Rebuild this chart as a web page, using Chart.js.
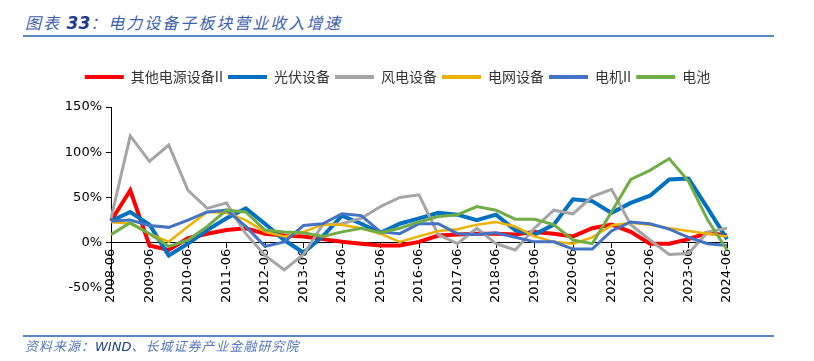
<!DOCTYPE html>
<html>
<head>
<meta charset="utf-8">
<script src="https://cdn.jsdelivr.net/npm/chart.js@4/dist/chart.umd.min.js"></script>
<style>
html,body{margin:0;padding:0;background:#fff;}
#wrap{position:relative;width:814px;height:361px;overflow:hidden;background:#fff;}
#c{position:absolute;left:0;top:0;}
.title{position:absolute;left:25px;top:11px;font-family:"Noto Sans CJK SC",sans-serif;font-style:italic;font-size:16px;letter-spacing:2px;color:#3E62AE;line-height:22px;white-space:nowrap;}
.title b{font-family:"DejaVu Sans",sans-serif;font-weight:bold;font-style:italic;font-size:17px;color:#1F3D8F;letter-spacing:0;}
.rule{position:absolute;left:23px;width:751px;height:2px;background:#5B86C6;}
.foot{position:absolute;left:25px;top:337px;font-family:"Noto Sans CJK SC",sans-serif;font-style:italic;font-size:13px;letter-spacing:1px;color:#5677BC;line-height:18px;white-space:nowrap;}
.foot span{font-family:"DejaVu Sans",sans-serif;color:#1F3D8F;letter-spacing:0;}
</style>
</head>
<body>
<div id="wrap">
  <div class="title">图表 <b>33</b>：电力设备子板块营业收入增速</div>
  <div class="rule" style="top:35px"></div>
  <canvas id="c" width="814" height="361"></canvas>
  <div class="rule" style="top:335px"></div>
  <div class="foot">资料来源：<span>WIND</span>、长城证券产业金融研究院</div>
</div>
<script>
const categories = [
  '2008-06','2008-12','2009-06','2009-12','2010-06','2010-12','2011-06','2011-12',
  '2012-06','2012-12','2013-06','2013-12','2014-06','2014-12','2015-06','2015-12',
  '2016-06','2016-12','2017-06','2017-12','2018-06','2018-12','2019-06','2019-12',
  '2020-06','2020-12','2021-06','2021-12','2022-06','2022-12','2023-06','2023-12','2024-06'
];
const seriesNames = ['其他电源设备II','光伏设备','风电设备','电网设备','电机II','电池'];
const otherPower = [24,58,-3,-8,5,10,14,16,10,8,7,4,1,-1,-3,-3,1,8,9,10,10,9,12,10,7,16,20,12,-1,-1,4,11,8];
const solar      = [24,34,20,-14,-1,14,27,38,21,3,-11,7,30,21,11,21,27,33,31,25,31,14,9,20,48,46,33,44,52,70,71,38,4];
const wind       = [27,118,90,108,58,38,44,10,-14,-30,-13,20,21,27,40,50,53,9,-1,16,-1,-8,16,36,32,51,59,20,3,-13,-12,12,16];
const grid       = [23,21,10,1,18,34,33,25,12,7,12,20,20,16,10,1,7,13,15,20,23,18,7,1,-1,6,19,22,20,16,13,10,7];
const motor      = [24,25,19,17,25,34,36,18,-4,1,19,21,32,30,12,10,21,21,10,9,11,6,1,1,-7,-7,13,23,21,15,6,-1,-3];
const battery    = [9,22,10,-4,3,18,36,34,14,12,11,7,12,16,11,16,23,29,31,40,36,26,26,20,3,-1,34,70,80,93,68,25,-8];
const yTicks = [-50,0,50,100,150];

const seriesValues = [otherPower, solar, wind, grid, motor, battery];
const seriesColors = ['#FF0000','#0070C0','#A5A5A5','#EDB100','#4472C4','#70AD47'];
const seriesWidths = [4,4,3,2.5,3,3];

const datasets = seriesNames.map((name,i)=>({
  label:name,
  data:seriesValues[i],
  borderColor:seriesColors[i],
  backgroundColor:seriesColors[i],
  borderWidth:seriesWidths[i],
  pointRadius:0,
  tension:0,
  fill:false,
  order:seriesNames.length-i
}));

const legendTweak = {
  id:'legendTweak',
  beforeLayout(chart){
    const lg = chart.legend;
    if (lg && !lg._patched){
      const f = lg.fit.bind(lg);
      lg.fit = function(){ f(); this.height += 13; };
      lg._patched = true;
    }
  },
  afterLayout(chart){
    const lg = chart.legend;
    if (lg){ lg.left += 34; lg.right += 34; }
  }
};

new Chart(document.getElementById('c'), {
  type:'line',
  data:{labels:categories, datasets},
  options:{
    responsive:false,
    animation:false,
    layout:{padding:{left:0,right:87,top:65,bottom:73}},
    plugins:{
      legend:{
        position:'top',
        labels:{
          boxWidth:39, boxHeight:4, padding:5, color:'#333',
          font:{family:'"Noto Sans CJK SC"', size:14},
          sort:(a,b)=>a.datasetIndex-b.datasetIndex,
          generateLabels:(chart)=>Chart.defaults.plugins.legend.labels.generateLabels(chart)
            .map(l=>Object.assign(l,{lineWidth:0, fillStyle:seriesColors[l.datasetIndex]}))
        }
      },
      tooltip:{enabled:false}
    },
    scales:{
      x:{
        position:{y:0},
        offset:false,
        grid:{drawOnChartArea:false, drawTicks:true, tickLength:5,
              color:(c)=> (c.index%2===0 ? '#000' : 'rgba(0,0,0,0)')},
        border:{color:'#000', width:1},
        ticks:{autoSkip:false, maxRotation:90, minRotation:90, padding:1, color:'#000',
               font:{family:'"DejaVu Sans"', size:13},
               callback:(v,i)=> (i%2===0 ? categories[i] : '')},
        afterFit:(s)=>{ s.height = 0; }
      },
      y:{
        min:-50, max:150,
        afterBuildTicks:(s)=>{ s.ticks = yTicks.map(v=>({value:v})); },
        grid:{drawOnChartArea:false, drawTicks:true, tickLength:5, color:'#000'},
        border:{color:'#000', width:1},
        ticks:{padding:4, color:'#000', font:{family:'"DejaVu Sans"', size:13},
               callback:(v)=> v+'%'},
        afterFit:(s)=>{ s.width = 111; }
      }
    }
  },
  plugins:[legendTweak]
});
</script>
</body>
</html>
